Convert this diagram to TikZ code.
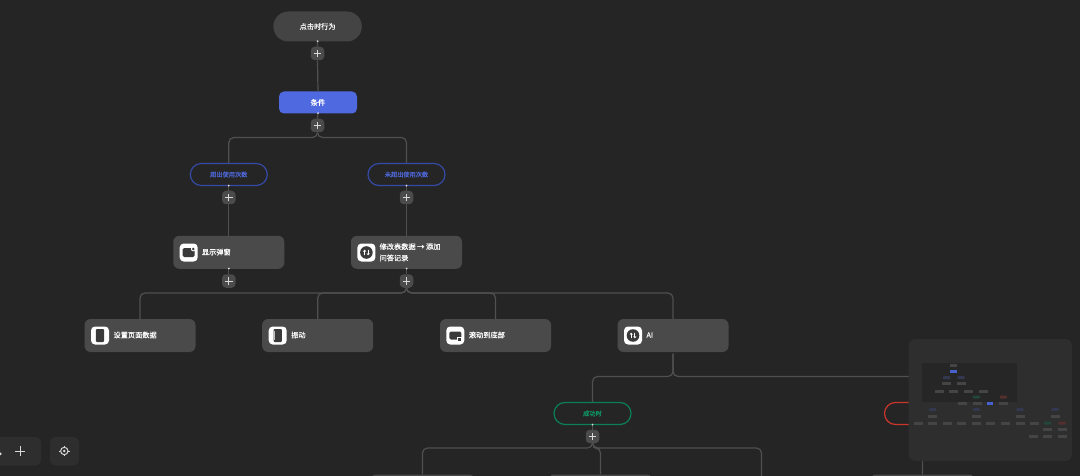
\documentclass[tikz,border=0pt]{standalone}
\usepackage{fontspec}
\setmainfont{Noto Sans CJK SC}[FakeBold=0.35]
\usetikzlibrary{arrows.meta}
\definecolor{bgc}{HTML}{252525}
\definecolor{nodec}{HTML}{4A4A4A}
\definecolor{wirec}{HTML}{505050}
\definecolor{plusc}{HTML}{4B4B4B}
\definecolor{bluec}{HTML}{4F69E0}
\definecolor{blued}{HTML}{3549A6}
\definecolor{bluet}{HTML}{4E66D6}
\definecolor{greend}{HTML}{0B8058}
\definecolor{greent}{HTML}{0E9A68}
\definecolor{redd}{HTML}{CC352B}
\definecolor{mapc}{HTML}{2E2E2E}
\definecolor{mapv}{HTML}{262626}
\definecolor{mapg}{HTML}{454545}
\definecolor{mapb}{HTML}{4660CC}
\definecolor{mapdb}{HTML}{33384F}
\definecolor{mapdg}{HTML}{24453A}
\definecolor{mapdr}{HTML}{53302E}
\definecolor{iconc}{HTML}{3A3A3A}
\tikzset{
  wire/.style={draw=wirec,line width=1.2pt,rounded corners=5pt},
  startbox/.style={fill=nodec!92!black,rounded corners=15pt,minimum width=88.5pt,minimum height=30pt,inner sep=0pt,text=white,font=\fontsize{7.2}{9}\selectfont},
  condbox/.style={fill=bluec,rounded corners=5pt,minimum width=78pt,minimum height=22pt,inner sep=0pt,text=white,font=\fontsize{7.4}{9}\selectfont},
  pillbox/.style={fill=bgc,rounded corners=11pt,line width=1.2pt,minimum width=77pt,minimum height=22pt,inner sep=0pt,font=\fontsize{6.2}{8}\selectfont},
  actbox/.style={fill=nodec,rounded corners=6pt,minimum width=111pt,minimum height=33pt,inner sep=0pt},
  acttext/.style={anchor=west,inner sep=0pt,text=white,align=left,font=\fontsize{7.2}{11.3}\selectfont},
  iconbox/.style={fill=white,rounded corners=4pt,minimum size=18pt,inner sep=0pt},
  addbtn/.style={fill=plusc,rounded corners=4pt,minimum size=13.5pt,inner sep=0pt},
  tiny dot/.style={fill=white!85!black,circle,minimum size=2pt,inner sep=0pt},
  toolbox/.style={fill=mapc,rounded corners=6pt},
  mm/.style={fill=mapg,minimum width=9pt,minimum height=3pt,inner sep=0pt},
  mmblue/.style={fill=mapb,minimum width=6.5pt,minimum height=2.6pt,inner sep=0pt},
  mmdb/.style={fill=mapdb,rounded corners=1pt,minimum width=7.5pt,minimum height=3pt,inner sep=0pt},
  mmdg/.style={fill=mapdg,rounded corners=1pt,minimum width=7.5pt,minimum height=3pt,inner sep=0pt},
  mmdr/.style={fill=mapdr,rounded corners=1pt,minimum width=7.5pt,minimum height=3pt,inner sep=0pt},
}
\newcommand{\plusmark}[1]{\draw[white!85!black,line width=.9pt] ([xshift=-3.8pt]#1.center)--([xshift=3.8pt]#1.center) ([yshift=-3.8pt]#1.center)--([yshift=3.8pt]#1.center);}
\newcommand{\phoneicon}[1]{\fill[iconc,rounded corners=1pt] ([xshift=-4.2pt,yshift=-6.5pt]#1.center) rectangle ([xshift=4.2pt,yshift=6.5pt]#1.center);
  \fill[white!75!black] ([xshift=-3.4pt,yshift=-4.8pt]#1.center) rectangle ([xshift=3.4pt,yshift=4.8pt]#1.center);
  \fill[iconc] ([xshift=-2.9pt,yshift=-4.3pt]#1.center) rectangle ([xshift=2.9pt,yshift=4.3pt]#1.center);}
\newcommand{\windowicon}[1]{\fill[iconc,rounded corners=1.5pt] ([xshift=-6pt,yshift=-4.5pt]#1.center) rectangle ([xshift=6pt,yshift=4.5pt]#1.center);
  \fill[white] ([xshift=4.5pt,yshift=3.5pt]#1.center) circle (2.3pt);
  \fill[iconc] ([xshift=4.5pt,yshift=3.5pt]#1.center) circle (1.3pt);}
\newcommand{\scrollicon}[1]{\fill[iconc,rounded corners=1.5pt] ([xshift=-6pt,yshift=-4pt]#1.center) rectangle ([xshift=6pt,yshift=4pt]#1.center);
  \fill[white] ([xshift=1.5pt,yshift=-5pt]#1.center) rectangle ([xshift=6.5pt,yshift=-1pt]#1.center);
  \fill[iconc] ([xshift=2.5pt,yshift=-5pt]#1.center) rectangle ([xshift=5.5pt,yshift=-2pt]#1.center);}
\newcommand{\syncicon}[1]{\fill[iconc] (#1.center) circle (6.3pt);
  \draw[white,line width=.7pt,-{Straight Barb[length=1.3pt,width=2.4pt]}] ([xshift=-1.8pt,yshift=-2.8pt]#1.center)--([xshift=-1.8pt,yshift=2.8pt]#1.center);
  \draw[white,line width=.7pt,-{Straight Barb[length=1.3pt,width=2.4pt]}] ([xshift=1.8pt,yshift=2.8pt]#1.center)--([xshift=1.8pt,yshift=-2.8pt]#1.center);}
\begin{document}
\begin{tikzpicture}[x=1pt,y=-1pt]
\useasboundingbox (0,0) rectangle (1080,476);
\clip (0,0) rectangle (1080,476);
\fill[bgc] (0,0) rectangle (1080,476);

% bus coordinates
\coordinate (bus1) at (317.5,137.5);
\coordinate (bus2) at (406.5,293);
\coordinate (bus3) at (673,376.5);
\coordinate (bus4) at (592.5,448);
\coordinate (free1) at (761.5,477);

% nodes
\node[startbox] (start) at (317.6,26.5) {点击时行为};
\node[condbox] (cond) at (318,102.5) {条件};
\node[pillbox,draw=blued,text=bluet] (over) at (228.8,174.5) {超出使用次数};
\node[pillbox,draw=blued,text=bluet] (under) at (406.5,174.5) {未超出使用次数};
\node[actbox] (popup) at (228.8,252.3) {};
\node[actbox] (form) at (406.5,252.3) {};
\node[actbox] (page) at (140,335.5) {};
\node[actbox] (vib) at (317.7,335.5) {};
\node[actbox] (scroll) at (495.5,335.5) {};
\node[actbox] (ai) at (673,335.5) {};
\node[pillbox,draw=greend,text=greent] (ok) at (592.5,413.5) {成功时};
\node[pillbox,draw=redd] (fail) at (923,413.5) {};
\node[actbox,minimum width=105pt] (b1) at (422.5,491) {};
\node[actbox,minimum width=105pt] (b2) at (600.5,491) {};
\node[actbox,minimum width=105pt] (b3) at (922.5,491) {};

% add buttons
\node[addbtn] (a1) at (317.5,53.5) {};
\node[addbtn] (a2) at (317.5,125.5) {};
\node[addbtn] (a3) at (228.8,197.5) {};
\node[addbtn] (a4) at (406.5,197.5) {};
\node[addbtn] (a5) at (228.8,281) {};
\node[addbtn] (a6) at (406.5,281) {};
\node[addbtn] (a7) at (592.5,436.5) {};

% connectors
\draw[wire] (start.south) -- (a1.north);
\draw[wire] (a1.south) -- (cond.north);
\draw[wire] (cond.south) -- (a2.north);
\draw[wire] (a2.south) -- (bus1) -- (bus1 -| over.north) -- (over.north);
\draw[wire] (a2.south) -- (bus1) -- (bus1 -| under.north) -- (under.north);
\draw[wire] (over.south) -- (a3.north);
\draw[wire] (under.south) -- (a4.north);
\draw[wire] (a3.south) -- (popup.north);
\draw[wire] (a4.south) -- (form.north);
\draw[wire] (popup.south) -- (a5.north);
\draw[wire] (form.south) -- (a6.north);
\draw[wire] (a6.south) -- (bus2) -- (bus2 -| page.north) -- (page.north);
\draw[wire] (a6.south) -- (bus2) -- (bus2 -| vib.north) -- (vib.north);
\draw[wire] (a6.south) -- (bus2) -- (bus2 -| scroll.north) -- (scroll.north);
\draw[wire] (a6.south) -- (bus2) -- (bus2 -| ai.north) -- (ai.north);
\draw[wire] ([yshift=-1.5pt]ai.south) -- (bus3) -- (bus3 -| ok.north) -- (ok.north);
\draw[wire] ([yshift=-1.5pt]ai.south) -- (bus3) -- (bus3 -| fail.north) -- (fail.north);
\draw[wire] (ok.south) -- (a7.north);
\draw[wire] (a7.south) -- (bus4) -- (bus4 -| b1.north) -- (b1.north);
\draw[wire] (a7.south) -- (bus4) -- (bus4 -| b2.north) -- (b2.north);
\draw[wire] (a7.south) -- (bus4) -- (bus4 -| free1) -- (free1);
\draw[wire] (fail.south) -- (b3.north);

\foreach \n in {a1,a2,a3,a4,a5,a6,a7} {\plusmark{\n}}

% dots under the source nodes
\foreach \n in {start,cond,over,under,popup,form,ok} {\node[tiny dot] at ([yshift=.5pt]\n.south) {};}

% action node contents
\node[iconbox] (i1) at (188.7,252.5) {}; \windowicon{i1}
\node[acttext] (t1) at (201.7,252) {显示弹窗};
\node[iconbox] (i2) at (366.4,252.5) {}; \syncicon{i2}
\node[acttext] (t2) at (379.4,252.3) {修改表数据 → 添加\\问答记录};
\node[iconbox] (i3) at (100,335.5) {}; \phoneicon{i3}
\node[acttext] (t3) at (113.3,335) {设置页面数据};
\node[iconbox] (i4) at (277.7,335.5) {}; \phoneicon{i4}
\node[acttext] (t4) at (291,335) {振动};
\node[iconbox] (i5) at (455.3,335.5) {}; \scrollicon{i5}
\node[acttext] (t5) at (468.7,335) {滚动到底部};
\node[iconbox] (i6) at (633,335.5) {}; \syncicon{i6}
\node[acttext] (t6) at (646.3,335) {AI};

% toolbar
\fill[toolbox] (-20,437) rectangle (41,465.5);
\fill[toolbox] (50,437) rectangle (79,465.5);
\fill[white!85!black] (0.3,453.8) circle (1.5pt);
\draw[white!85!black,line width=.9pt] (15,451)--(25,451) (20,446)--(20,456);
\draw[white!85!black,line width=1pt] (64.3,451) circle (3.7pt);
\fill[white!85!black] (64.3,451) circle (1.4pt);
\draw[white!85!black,line width=1pt] (59,451)--(60.3,451) (68.3,451)--(69.6,451) (64.3,445.7)--(64.3,447) (64.3,455)--(64.3,456.3);

% minimap
\fill[mapc,rounded corners=7pt] (908.5,339) rectangle (1072,461);
\fill[mapv] (922,363) rectangle (1016.5,402);
\node[mm,minimum width=7pt] (m1) at (953.7,365.3) {};
\node[mmblue] (m2) at (953.7,371.7) {};
\foreach \x in {946.7,961} {\node[mmdb] at (\x,377.7) {};}
\foreach \x in {946.3,961} {\node[mm] at (\x,383.7) {};}
\foreach \x in {939.3,953.7,968.3,983} {\node[mm] at (\x,391) {};}
\node[mmdg] (m3) at (976.3,397) {};
\node[mmdr] (m4) at (1003.3,397) {};
\foreach \x in {962.7,977,1003.3} {\node[mm] at (\x,403.3) {};}
\node[mmblue] (m5) at (990,403.6) {};
\foreach \x in {932.7,976.3,1020,1055} {\node[mmdb] at (\x,409.7) {}; \node[mm] at (\x,416) {};}
\foreach \x in {918.3,932.7,947,961.7,976.3,990.7,1005.3,1020,1034.7} {\node[mm] at (\x,423) {};}
\node[mmdg] (m6) at (1047.7,423) {};
\node[mmdr] (m7) at (1062,423) {};
\foreach \x in {1047.7,1062} {\node[mm] at (\x,429.3) {};}
\foreach \x in {1033.3,1047.7,1062} {\node[mm] at (\x,436.7) {};}
\end{tikzpicture}
\end{document}
